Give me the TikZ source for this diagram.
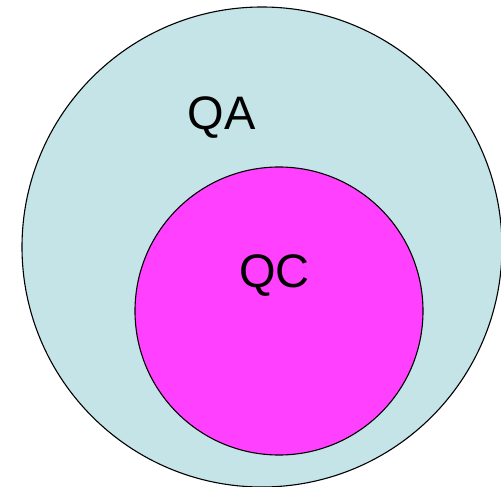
\documentclass[tikz,border=0pt]{standalone}
\usepackage{fontspec}
\setmainfont{Liberation Sans}
\definecolor{qablue}{RGB}{196,228,231}
\definecolor{qcpink}{RGB}{255,64,255}
\begin{document}
\begin{tikzpicture}[x=1pt,y=-1pt,
  setcircle/.style={circle,draw=black,line width=1.1pt,inner sep=0pt},
  lbl/.style={font=\fontsize{47}{50}\selectfont,inner sep=0pt,anchor=base}]
\useasboundingbox (0,0) rectangle (501,487);
\clip (0,0) rectangle (501,487);
\node[setcircle,fill=qablue,minimum size=480pt] (qa) at (262,247) {};
\node[setcircle,fill=qcpink,minimum size=288pt] (qc) at (279,311) {};
\node[lbl] (qatext) at (221.5,129) {QA};
\node[lbl] (qctext) at (274.5,287) {QC};
\end{tikzpicture}
\end{document}
